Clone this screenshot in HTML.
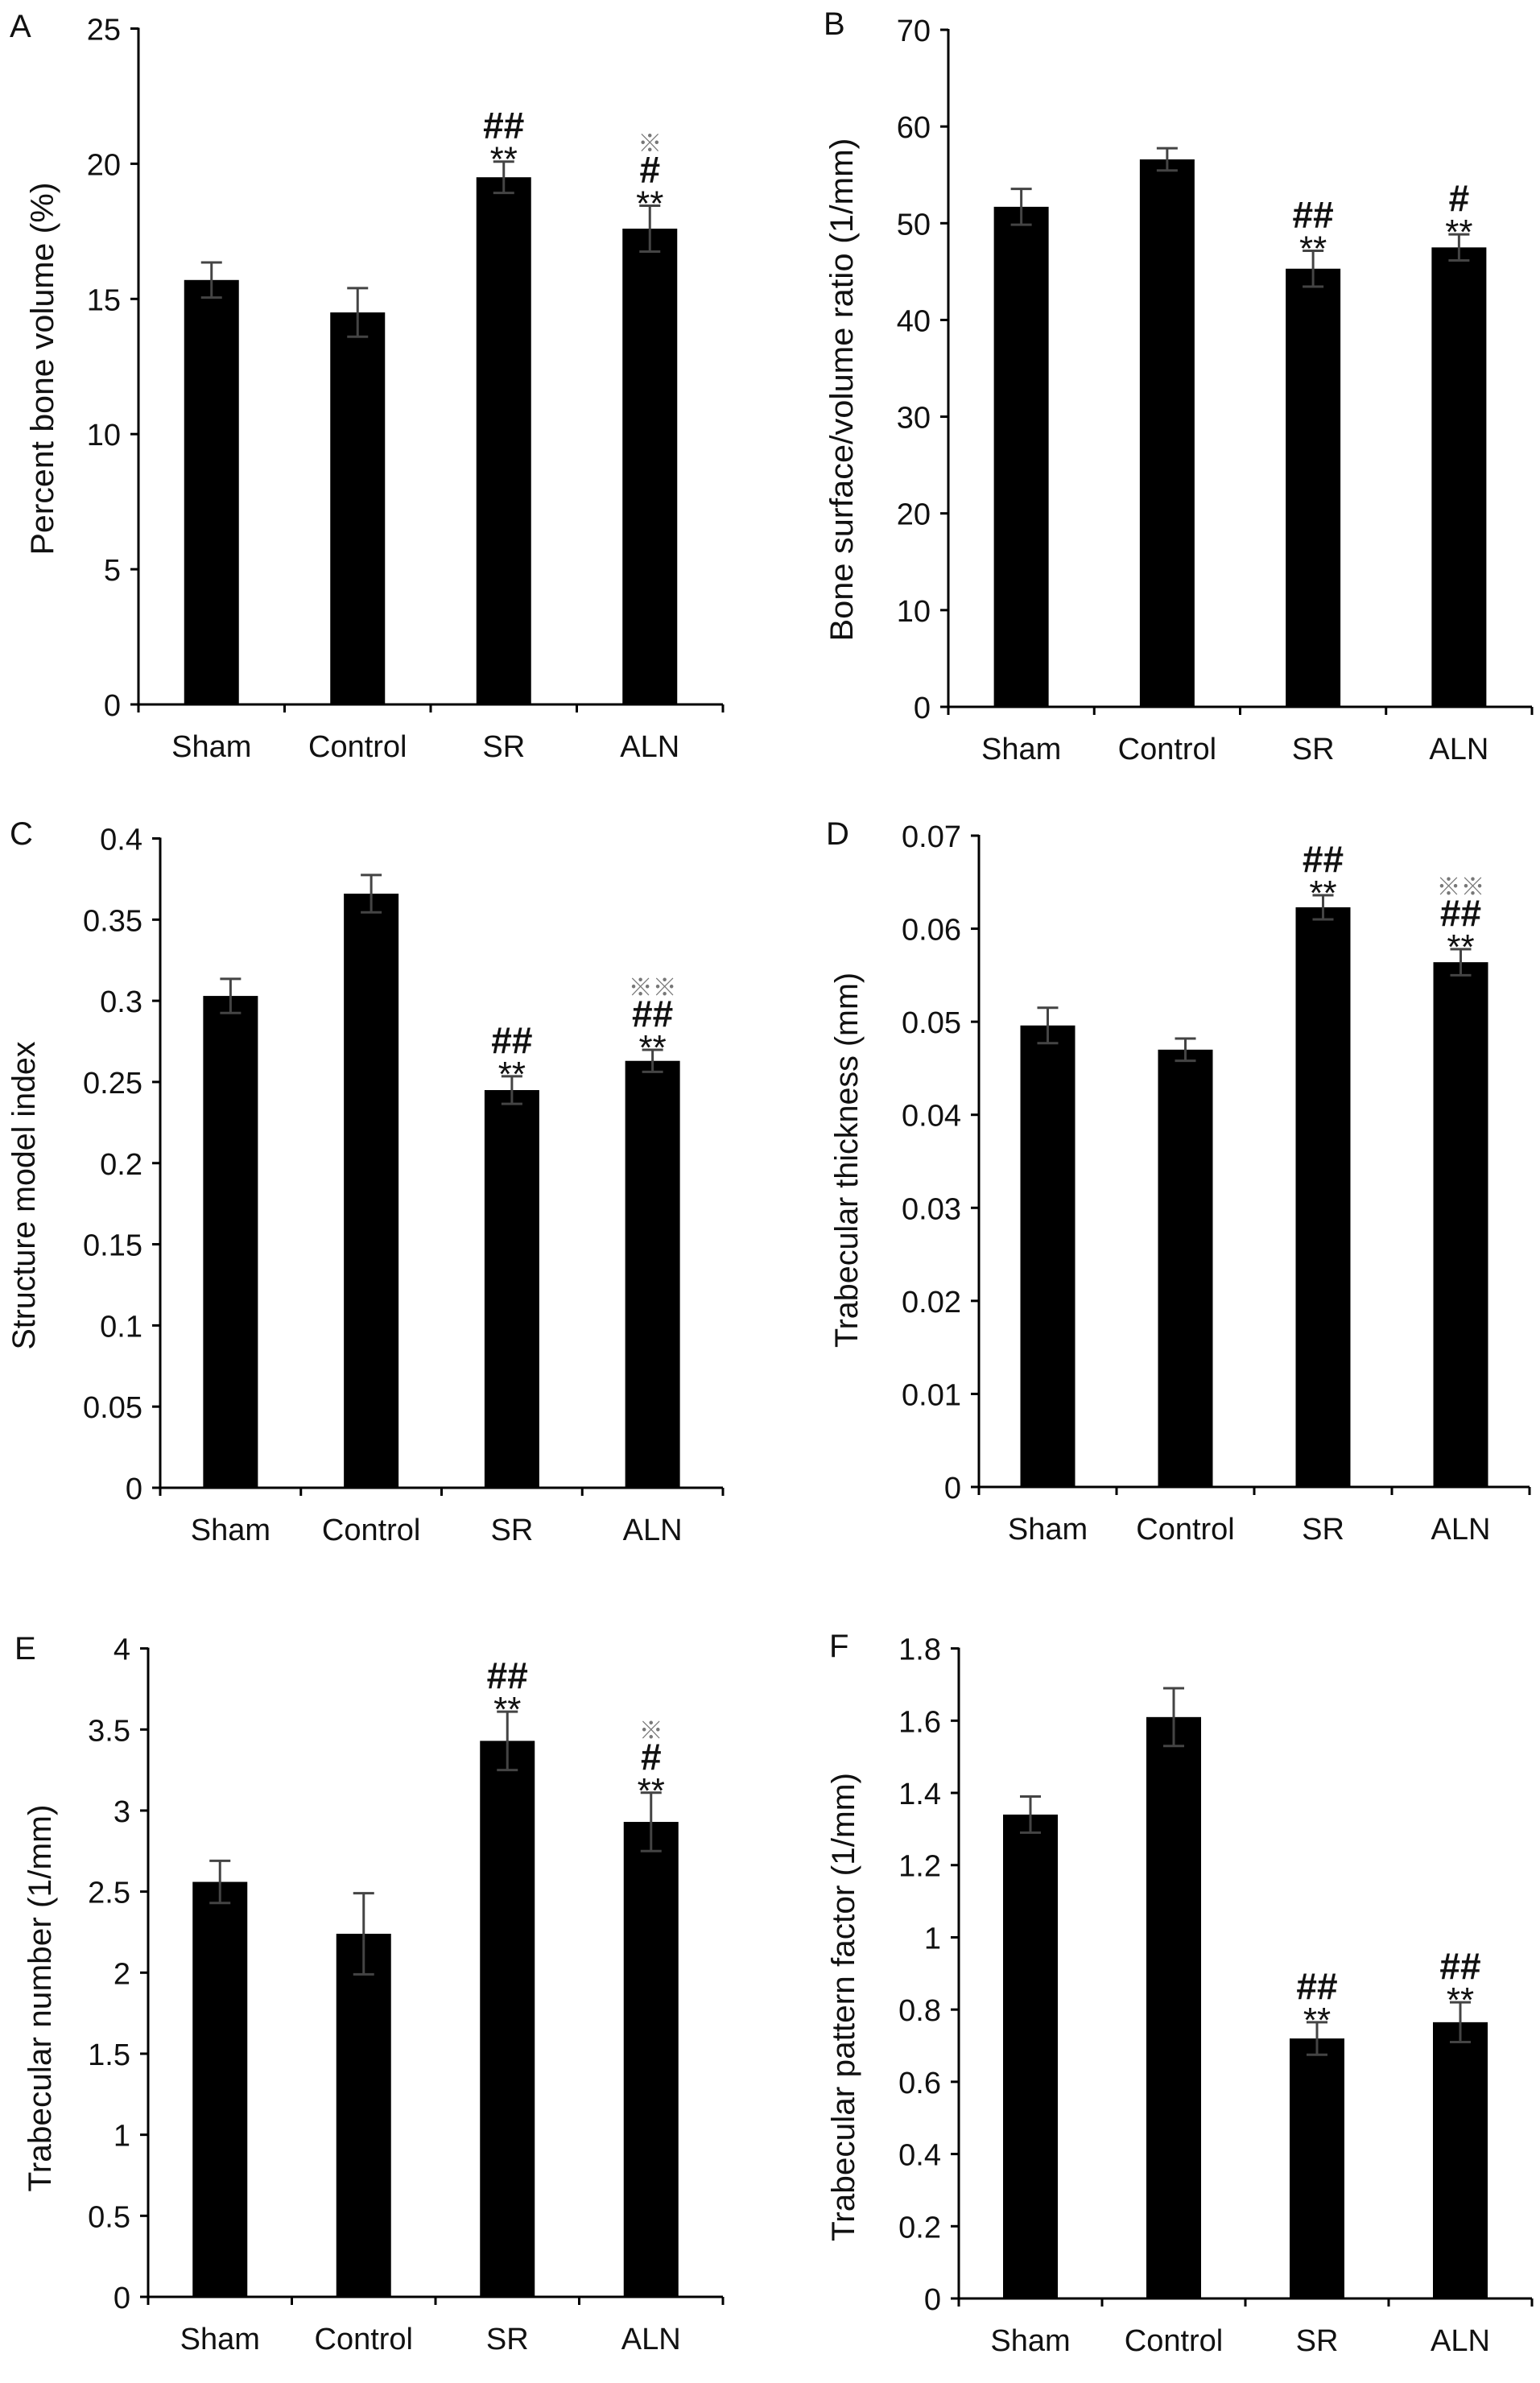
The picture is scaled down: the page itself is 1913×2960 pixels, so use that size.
<!DOCTYPE html>
<html><head><meta charset="utf-8"><style>
html,body{margin:0;padding:0;background:#fff;}
svg{display:block;}
text{font-family:"Liberation Sans","Noto Sans CJK JP",sans-serif;}
</style></head><body>
<svg id="fig" width="1913" height="2960" viewBox="0 0 1913 2960" xmlns="http://www.w3.org/2000/svg"></svg>
<script>
const categories = ["Sham","Control","SR","ALN"];

const ticksA = ["0","5","10","15","20","25"];
const valuesA = [15.7, 14.5, 19.5, 17.6];
const errA = [0.65, 0.9, 0.58, 0.85];
const starsA = ["", "", "**", "**"];
const hashA = ["", "", "##", "#"];
const refA = ["", "", "", "※"];

const ticksB = ["0","10","20","30","40","50","60","70"];
const valuesB = [51.7, 56.6, 45.3, 47.5];
const errB = [1.85, 1.15, 1.85, 1.35];
const starsB = ["", "", "**", "**"];
const hashB = ["", "", "##", "#"];
const refB = ["", "", "", ""];

const ticksC = ["0","0.05","0.1","0.15","0.2","0.25","0.3","0.35","0.4"];
const valuesC = [0.303, 0.366, 0.245, 0.263];
const errC = [0.0105, 0.0115, 0.0085, 0.0068];
const starsC = ["", "", "**", "**"];
const hashC = ["", "", "##", "##"];
const refC = ["", "", "", "※※"];

const ticksD = ["0","0.01","0.02","0.03","0.04","0.05","0.06","0.07"];
const valuesD = [0.0496, 0.0470, 0.0623, 0.0564];
const errD = [0.0019, 0.0012, 0.0013, 0.0014];
const starsD = ["", "", "**", "**"];
const hashD = ["", "", "##", "##"];
const refD = ["", "", "", "※※"];

const ticksE = ["0","0.5","1","1.5","2","2.5","3","3.5","4"];
const valuesE = [2.56, 2.24, 3.43, 2.93];
const errE = [0.13, 0.25, 0.18, 0.18];
const starsE = ["", "", "**", "**"];
const hashE = ["", "", "##", "#"];
const refE = ["", "", "", "※"];

const ticksF = ["0","0.2","0.4","0.6","0.8","1","1.2","1.4","1.6","1.8"];
const valuesF = [1.34, 1.61, 0.72, 0.765];
const errF = [0.05, 0.08, 0.045, 0.055];
const starsF = ["", "", "**", "**"];
const hashF = ["", "", "##", "##"];
const refF = ["", "", "", ""];

const NS = "http://www.w3.org/2000/svg";
const svg = document.getElementById("fig");
function mk(tag, attrs, parent, txt){
  const e = document.createElementNS(NS, tag);
  for (const k in attrs) e.setAttribute(k, attrs[k]);
  if (txt !== undefined) e.textContent = txt;
  (parent || svg).appendChild(e);
  return e;
}

function panel(cfg, ticks, values, errs, stars, hashes, refs){
  const g = mk("g", {});
  
  
  const tvals = ticks.map(Number);
  const maxV = tvals[tvals.length - 1];
  const y = v => cfg.y0 - (v / maxV) * (cfg.y0 - cfg.yTop);
  const step = (cfg.xEnd - cfg.x0) / categories.length;
  const xc = i => cfg.x0 + (i + 0.5) * step;

  const lbl = mk("text", {x: cfg.lx, y: cfg.ly, "font-size": 40, fill: "#111"}, g, cfg.letter);
  
  

  values.forEach((v, i) => {
    const r = mk("rect", {x: xc(i) - 34, y: y(v), width: 68, height: cfg.y0 - y(v), fill: "#000"}, g);
    
    
    const top = y(v + errs[i]), bot = y(v - errs[i]);
    const eg = mk("g", {stroke: "#444", "stroke-width": 3}, g);
    
    
    mk("line", {x1: xc(i), x2: xc(i), y1: top, y2: bot}, eg);
    mk("line", {x1: xc(i) - 13, x2: xc(i) + 13, y1: top, y2: top}, eg);
    mk("line", {x1: xc(i) - 13, x2: xc(i) + 13, y1: bot, y2: bot}, eg);
    if (stars[i]) {
      const s = mk("text", {x: xc(i), y: top + 12, "font-size": 44, "text-anchor": "middle", fill: "#111"}, g, stars[i]);
      
      
    }
    if (hashes[i]) {
      const h = mk("text", {x: xc(i), y: top - 29, "font-size": 46, "font-weight": "bold", "text-anchor": "middle", fill: "#111"}, g, hashes[i]);
      
      
    }
    if (refs[i]) {
      const rr = mk("text", {x: xc(i), y: top - 67, "font-size": 30, "text-anchor": "middle", fill: "#777"}, g, refs[i]);
      
      
    }
  });

  const ax = mk("g", {stroke: "#000", "stroke-width": 3}, g);
  
  
  mk("line", {x1: cfg.x0, x2: cfg.x0, y1: cfg.yTop - 1, y2: cfg.y0 + 1.5}, ax);
  mk("line", {x1: cfg.x0 - 1.5, x2: cfg.xEnd, y1: cfg.y0, y2: cfg.y0}, ax);
  tvals.forEach((t, k) => {
    mk("line", {x1: cfg.x0 - 10, x2: cfg.x0, y1: y(t), y2: y(t)}, ax);
    const tl = mk("text", {x: cfg.x0 - 22, y: y(t) + 14, "font-size": 38, "text-anchor": "end", fill: "#111"}, g, ticks[k]);
    
    
  });
  for (let i = 0; i <= categories.length; i++) {
    mk("line", {x1: cfg.x0 + i * step, x2: cfg.x0 + i * step, y1: cfg.y0, y2: cfg.y0 + 10}, ax);
  }
  categories.forEach((c, i) => {
    const cl = mk("text", {x: xc(i), y: cfg.y0 + 65, "font-size": 38, "text-anchor": "middle", fill: "#111"}, g, c);
    
    
  });
  const yt = mk("text", {x: 0, y: 0, "font-size": 40, "text-anchor": "middle", fill: "#111",
    textLength: cfg.tLen, lengthAdjust: "spacingAndGlyphs",
    transform: "translate(" + cfg.tx + "," + cfg.ty + ") rotate(-90)"}, g, cfg.title);
  
  
}

panel({letter:"A", lx:12, ly:46, x0:172, xEnd:898, yTop:35.5, y0:875, title:"Percent bone volume (%)", tx:66, ty:458, tLen:463}, ticksA, valuesA, errA, starsA, hashA, refA);
panel({letter:"B", lx:1023, ly:43, x0:1178, xEnd:1903, yTop:37, y0:878, title:"Bone surface/volume ratio (1/mm)", tx:1059, ty:484, tLen:625}, ticksB, valuesB, errB, starsB, hashB, refB);
panel({letter:"C", lx:12, ly:1049, x0:199, xEnd:898, yTop:1041.5, y0:1848, title:"Structure model index", tx:43, ty:1485, tLen:383}, ticksC, valuesC, errC, starsC, hashC, refC);
panel({letter:"D", lx:1026, ly:1049, x0:1216, xEnd:1900, yTop:1038, y0:1847, title:"Trabecular thickness (mm)", tx:1065, ty:1441, tLen:466}, ticksD, valuesD, errD, starsD, hashD, refD);
panel({letter:"E", lx:18, ly:2061, x0:184, xEnd:898, yTop:2047.6, y0:2853, title:"Trabecular number  (1/mm)", tx:63, ty:2482, tLen:481}, ticksE, valuesE, errE, starsE, hashE, refE);
panel({letter:"F", lx:1030, ly:2058, x0:1191, xEnd:1903, yTop:2047.6, y0:2855, title:"Trabecular pattern factor  (1/mm)", tx:1061, ty:2493, tLen:582}, ticksF, valuesF, errF, starsF, hashF, refF);
</script>
</body></html>
